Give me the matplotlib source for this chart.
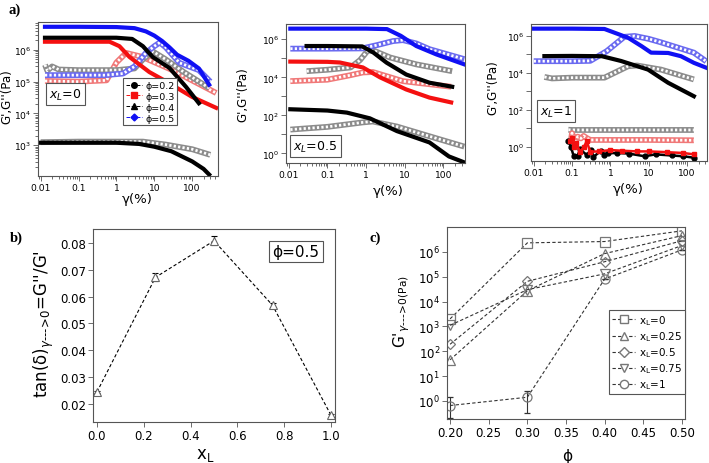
import numpy as np
import matplotlib
matplotlib.use('Agg')
import matplotlib.pyplot as plt
from matplotlib.lines import Line2D
from matplotlib.ticker import LogLocator, FuncFormatter, NullFormatter, FixedLocator

plt.rcParams['font.family'] = ['DejaVu Sans']
plt.rcParams['mathtext.fontset'] = 'dejavusans'

# ---------------- panel a, x_L = 0 ----------------
a1_g_p5 = [0.013, 0.1, 1, 3, 6, 10, 16, 25, 40, 80, 150, 280]
a1_gp_p5 = [5.3e6, 5.3e6, 5.2e6, 4.8e6, 3.8e6, 2.8e6, 1.9e6, 1.2e6, 7e5, 4.5e5, 2.6e5, 8e4]
a1_h_p5 = [0.013, 0.1, 0.5, 1.5, 3, 6, 10, 14, 20, 46, 150, 300]
a1_gpp_p5 = [1.6e5, 1.6e5, 1.6e5, 1.8e5, 3e5, 8e5, 1.3e6, 1.7e6, 1.2e6, 3.9e5, 2.3e5, 1e5]
a1_g_p4 = [0.013, 0.1, 1, 2.6, 5, 9, 25, 69, 150]
a1_gp_p4 = [2.4e6, 2.4e6, 2.4e6, 2.2e6, 1.3e6, 6e5, 2.7e5, 6.8e4, 2.1e4]
a1_h_p4 = [0.013, 0.015, 0.02, 0.03, 0.1, 1, 3, 5, 9, 20, 60, 280]
a1_gpp_p4 = [3.4e5, 2.2e5, 3e5, 2.4e5, 2.3e5, 2.3e5, 2.6e5, 5e5, 9e5, 5e5, 2e5, 6.3e4]
a1_g_p3 = [0.013, 0.1, 0.66, 1.2, 2.2, 7.4, 21, 100, 430]
a1_gp_p3 = [1.8e6, 1.8e6, 1.8e6, 1.3e6, 6e5, 2e5, 1e5, 3.3e4, 1.5e4]
a1_h_p3 = [0.013, 0.1, 0.55, 1, 1.8, 4.8, 30, 430]
a1_gpp_p3 = [1.05e5, 1.0e5, 1.1e5, 4e5, 8e5, 6e5, 2.3e5, 4.4e4]
a1_g_p2 = [0.01, 0.1, 1, 4, 10, 28, 100, 200, 280]
a1_gp_p2 = [1.2e3, 1.2e3, 1.2e3, 1.1e3, 900, 650, 310, 180, 120]
a1_h_p2 = [0.01, 0.1, 1, 5, 20, 100, 300]
a1_gpp_p2 = [1.25e3, 1.3e3, 1.3e3, 1.3e3, 1.05e3, 750, 500]

# ---------------- panel a, x_L = 0.5 ----------------
a2_g_p5 = [0.011, 0.1, 1, 3.5, 8, 20, 66, 350]
a2_gp_p5 = [3.6e6, 3.6e6, 3.6e6, 3.4e6, 1.5e6, 4.4e5, 1.6e5, 4.8e4]
a2_h_p5 = [0.011, 0.1, 0.8, 2, 5, 9, 20, 44, 350]
a2_gpp_p5 = [3.2e5, 3.2e5, 3.3e5, 5e5, 8e5, 9e5, 6e5, 3e5, 9e4]
a2_g_p4 = [0.029, 0.1, 0.8, 1.55, 3.4, 11, 44, 170]
a2_gp_p4 = [4.4e5, 4.4e5, 4.2e5, 2e5, 5.9e4, 1.4e4, 5.2e3, 3.2e3]
a2_h_p4 = [0.029, 0.1, 0.4, 0.7, 1.1, 1.6, 4.2, 20, 170]
a2_gpp_p4 = [2.1e4, 2.5e4, 3.3e4, 8e4, 2.5e5, 2.5e5, 1.1e5, 4.8e4, 2.1e4]
a2_g_p3 = [0.011, 0.1, 0.21, 0.83, 2.3, 11, 44, 160]
a2_gp_p3 = [6.7e4, 6.5e4, 6e4, 3.3e4, 1e4, 2.3e3, 860, 480]
a2_h_p3 = [0.011, 0.1, 0.4, 0.83, 1.5, 9, 160]
a2_gpp_p3 = [6.3e3, 7.5e3, 1.3e4, 1.8e4, 1.9e4, 6.3e3, 3.2e3]
a2_g_p2 = [0.011, 0.1, 0.32, 1.26, 6.3, 44, 140, 350]
a2_gp_p2 = [210, 180, 140, 70, 15, 3.8, 0.7, 0.34]
a2_h_p2 = [0.011, 0.1, 0.83, 1.5, 6.3, 44, 350]
a2_gpp_p2 = [18, 25, 43, 48, 26, 8, 2.3]

# ---------------- panel a, x_L = 1 ----------------
a3_g_p5 = [0.01, 0.1, 0.7, 2.9, 6.5, 11.5, 32, 69, 150, 316]
a3_gp_p5 = [2.5e6, 2.5e6, 2.4e6, 8e5, 2.8e5, 1.25e5, 1.2e5, 8e4, 3.5e4, 1.9e4]
a3_h_p5 = [0.01, 0.1, 0.3, 0.8, 2.3, 4.3, 10, 21, 150, 316]
a3_gpp_p5 = [4.3e4, 4.3e4, 4.5e4, 1.5e5, 9e5, 1e6, 7e5, 4.5e5, 1.25e5, 4.2e4]
a3_g_p4 = [0.019, 0.1, 0.6, 1.9, 9.6, 32, 150]
a3_gp_p4 = [8.1e4, 8.3e4, 8e4, 4.4e4, 1.5e4, 2.9e3, 540]
a3_h_p4 = [0.019, 0.03, 0.1, 0.7, 2.9, 5, 21, 150]
a3_gpp_p4 = [6e3, 5e3, 5.5e3, 5.5e3, 2.3e4, 2.5e4, 1.5e4, 4.4e3]
a3_g_p3 = [0.09, 0.1, 0.11, 0.13, 0.16, 0.2, 0.24, 0.3, 0.5, 1, 2, 5, 10, 30, 80, 150]
a3_gp_p3 = [1.9, 2.8, 1.0, 1.5, 0.53, 0.9, 1.9, 0.53, 0.55, 0.65, 0.6, 0.55, 0.55, 0.5, 0.45, 0.38]
a3_h_p3 = [0.09, 0.1, 0.11, 0.12, 0.14, 0.17, 0.2, 0.25, 0.3, 1, 10, 150]
a3_gpp_p3 = [1.5, 5.4, 3.0, 1.5, 3.5, 2.8, 3.8, 2.8, 2.3, 2.3, 2.3, 2.2]
a3_g_p2 = [0.08, 0.093, 0.11, 0.14, 0.16, 0.24, 0.32, 0.36, 0.58, 0.68, 0.87, 1.5, 3, 7.8, 15, 40, 80, 150]
a3_gp_p2 = [2.0, 1.0, 0.31, 0.31, 0.72, 0.36, 0.66, 0.28, 0.6, 0.36, 0.44, 0.45, 0.42, 0.3, 0.38, 0.33, 0.3, 0.25]
a3_h_p2 = [0.08, 0.1, 0.15, 0.2, 0.3, 1, 10, 150]
a3_gpp_p2 = [8.2, 8.0, 8.0, 8.0, 8.0, 8.0, 8.0, 8.0]

# ---------------- panel b ----------------
xL_b = [0.0, 0.25, 0.5, 0.75, 1.0]
tan_b = [0.0245, 0.0672, 0.0808, 0.0568, 0.0158]
tan_err = [0.0005, 0.0015, 0.0017, 0.0008, 0.0006]

# ---------------- panel c ----------------
phi_c = [0.2, 0.3, 0.4, 0.5]
gc_x0 = [2.0e3, 2.3e6, 2.6e6, 7e6]
gc_x025 = [45, 2.7e4, 8.5e5, 4.5e6]
gc_x05 = [190, 6.5e4, 4e5, 2.8e6]
gc_x075 = [1.1e3, 3e4, 1.3e5, 1.8e6]
gc_x1 = [0.65, 1.4, 8e4, 1.2e6]
gc_x1_lo = [0.45, 1.08, 0, 0]
gc_x1_hi = [0.8, 1.2, 0, 0]
c_labels = ['0', '0.25', '0.5', '0.75', '1']

W, H = 709., 464.
frame = '#555555'
HY = '\u2010'   # plain hyphen, so mathtext does not space it like a minus


def rect(l, t, r, b):
    return [l / W, 1 - b / H, (r - l) / W, (b - t) / H]


def solid(ax, g, v, c):
    ax.plot(g, v, '-', color=c, lw=3.0)


def hollow(ax, g, v, mid):
    ax.plot(g, v, '-', color=mid, lw=4.2, solid_capstyle='butt')
    ax.plot(g, v, color='white', lw=2.0, ls=(0, (0.8, 0.8)))


def style(ax):
    for s in ax.spines.values():
        s.set_color(frame)
        s.set_linewidth(0.8)
    ax.tick_params(which='both', direction='out', color=frame, width=0.6)
    ax.tick_params(which='major', length=3.5, pad=1.5)
    ax.tick_params(which='minor', length=2)


def log_a(ax, xr, ylim, every_other):
    ax.set_xscale('log')
    ax.set_yscale('log')
    ax.set_xlim(0.0085, xr)
    ax.set_ylim(*ylim)
    ax.xaxis.set_major_locator(FixedLocator([0.01, 0.1, 1, 10, 100]))
    ax.xaxis.set_major_formatter(FuncFormatter(lambda v, p: '%g' % v))
    ax.xaxis.set_minor_locator(LogLocator(base=10, subs=np.arange(2, 10)))
    ax.xaxis.set_minor_formatter(NullFormatter())
    ax.yaxis.set_major_locator(LogLocator(base=10, numticks=20))
    if every_other:
        ax.yaxis.set_major_formatter(FuncFormatter(
            lambda v, p: '' if round(np.log10(v)) % 2 else r'$\mathregular{10^{%d}}$' % round(np.log10(v))))
        ax.yaxis.set_minor_locator(FixedLocator([]))
    else:
        ax.yaxis.set_major_formatter(FuncFormatter(
            lambda v, p: r'$\mathregular{10^{%d}}$' % round(np.log10(v))))
        ax.yaxis.set_minor_locator(LogLocator(base=10, subs=np.arange(2, 10), numticks=20))
        ax.yaxis.set_minor_formatter(NullFormatter())
    ax.tick_params(labelsize=6.6)
    style(ax)


def xl_box(ax, x, y, s):
    ax.text(x, y, r'$x_L$=' + s, transform=ax.transAxes, fontsize=9, ha='center', va='center',
            bbox=dict(boxstyle='square,pad=0.25', fc='white', ec=frame, lw=0.8))


fig = plt.figure(figsize=(7.09, 4.64), dpi=100)

# ---- a) x_L = 0
ax1 = fig.add_axes(rect(38, 23, 218, 177))
hollow(ax1, a1_h_p2, a1_gpp_p2, '#8c8c8c')
solid(ax1, a1_g_p2, a1_gp_p2, 'black')
hollow(ax1, a1_h_p3, a1_gpp_p3, '#f07878')
hollow(ax1, a1_h_p4, a1_gpp_p4, '#8c8c8c')
hollow(ax1, a1_h_p5, a1_gpp_p5, '#6a6af0')
solid(ax1, a1_g_p3, a1_gp_p3, '#f41010')
solid(ax1, a1_g_p4, a1_gp_p4, 'black')
solid(ax1, a1_g_p5, a1_gp_p5, '#1010f4')
log_a(ax1, 480, (108, 7.5e6), False)
hand = [Line2D([], [], color='black', ls='--', lw=0.7, marker='o', ms=4),
        Line2D([], [], color='#f41010', ls='--', lw=0.7, marker='s', ms=4),
        Line2D([], [], color='black', ls='--', lw=0.7, marker='^', ms=4),
        Line2D([], [], color='#1010f4', ls='--', lw=0.7, marker='D', ms=3.5)]
leg = ax1.legend(hand, ['ϕ=0.2', 'ϕ=0.3', 'ϕ=0.4', 'ϕ=0.5'], loc='upper left',
                 bbox_to_anchor=(0.472, 0.636), fontsize=6.8, handlelength=1.7,
                 handletextpad=0.35, borderpad=0.3, labelspacing=0.2, borderaxespad=0,
                 fancybox=False, framealpha=1, edgecolor=frame)
leg.get_frame().set_linewidth(0.8)
xl_box(ax1, 0.153, 0.532, '0')

# ---- a) x_L = 0.5
ax2 = fig.add_axes(rect(286, 25, 465, 164))
hollow(ax2, a2_h_p2, a2_gpp_p2, '#8c8c8c')
hollow(ax2, a2_h_p3, a2_gpp_p3, '#f07878')
hollow(ax2, a2_h_p4, a2_gpp_p4, '#8c8c8c')
hollow(ax2, a2_h_p5, a2_gpp_p5, '#6a6af0')
solid(ax2, a2_g_p2, a2_gp_p2, 'black')
solid(ax2, a2_g_p3, a2_gp_p3, '#f41010')
solid(ax2, a2_g_p4, a2_gp_p4, 'black')
solid(ax2, a2_g_p5, a2_gp_p5, '#1010f4')
log_a(ax2, 365, (10 ** -0.5, 10 ** 6.8), True)
xl_box(ax2, 0.165, 0.122, '0.5')

# ---- a) x_L = 1
ax3 = fig.add_axes(rect(531, 25, 707, 162))
hollow(ax3, a3_h_p2, a3_gpp_p2, '#8c8c8c')
hollow(ax3, a3_h_p3, a3_gpp_p3, '#f07878')
hollow(ax3, a3_h_p4, a3_gpp_p4, '#8c8c8c')
hollow(ax3, a3_h_p5, a3_gpp_p5, '#6a6af0')
ax3.plot(a3_g_p2, a3_gp_p2, '-o', color='black', lw=1.8, ms=3.5)
ax3.plot(a3_g_p3, a3_gp_p3, '-s', color='#f41010', lw=1.8, ms=3.5)
solid(ax3, a3_g_p4, a3_gp_p4, 'black')
solid(ax3, a3_g_p5, a3_gp_p5, '#1010f4')
log_a(ax3, 330, (10 ** -0.78, 10 ** 6.65), True)
xl_box(ax3, 0.142, 0.365, '1')

# axis labels of panel a
for x, y in [(7, 97), (243, 95), (493, 88)]:
    fig.text(x / W, 1 - y / H, "G',G''(Pa)", rotation=90, ha='center', va='center', fontsize=8.5)
for x, y in [(137, 199), (388, 192), (628, 190)]:
    fig.text(x / W, 1 - y / H, 'γ(%)', ha='center', va='center', fontsize=9.5)

# ---- b)
axb = fig.add_axes(rect(93, 230, 335, 423))
axb.errorbar(xL_b, tan_b, yerr=tan_err, fmt='--', color='black', lw=0.8, dashes=(3, 2),
             elinewidth=0.8, capsize=2.5, capthick=0.8, marker='^', ms=6,
             mfc='white', mec='#666666', mew=0.8)
axb.set_xlim(-0.017, 1.017)
axb.set_ylim(0.0133, 0.0852)
axb.set_xticks([0.0, 0.2, 0.4, 0.6, 0.8, 1.0])
axb.set_yticks([0.02, 0.03, 0.04, 0.05, 0.06, 0.07, 0.08])
axb.xaxis.set_major_formatter(FuncFormatter(lambda v, p: '%.1f' % v))
axb.yaxis.set_major_formatter(FuncFormatter(lambda v, p: '%.2f' % v))
axb.tick_params(labelsize=8.5)
style(axb)
axb.text(0.839, 0.883, 'ϕ=0.5', transform=axb.transAxes, fontsize=11, ha='center', va='center',
         bbox=dict(boxstyle='square,pad=0.2', fc='white', ec=frame, lw=0.8))
sub = r'_{\gamma\mathregular{' + HY * 3 + r'}\!>\!\mathregular{0}}'
fig.text(44 / W, 1 - 324 / H, r"tan(δ)$" + sub + r"$=G''/G'", rotation=90,
         ha='center', va='center', fontsize=12)
fig.text(205 / W, 1 - 455 / H, r'x$_\mathregular{L}$', ha='center', va='center', fontsize=12)

# ---- c)
axc = fig.add_axes(rect(447, 228, 685, 420))
series = [gc_x0, gc_x025, gc_x05, gc_x075, gc_x1]
marks = ['s', '^', 'D', 'v', 'o']
sizes = [6.5, 6.5, 5.5, 6.5, 6.5]
for vals, mk, sz in zip(series, marks, sizes):
    err = None
    if vals is gc_x1:
        err = [gc_x1_lo, gc_x1_hi]
    axc.errorbar(phi_c, vals, yerr=err, fmt='--', color='#333333', lw=0.8, dashes=(3, 2),
                 elinewidth=0.8, capsize=2.5, capthick=0.8, marker=mk, ms=sz,
                 mfc='none', mec='#777777', mew=0.9)
axc.set_yscale('log')
axc.set_xlim(0.196, 0.504)
axc.set_ylim(10 ** -0.73, 10 ** 7.0)
axc.set_xticks([0.2, 0.25, 0.3, 0.35, 0.4, 0.45, 0.5])
axc.xaxis.set_major_formatter(FuncFormatter(lambda v, p: '%.2f' % v))
axc.yaxis.set_major_locator(FixedLocator([10.0 ** k for k in range(0, 7)]))
axc.yaxis.set_major_formatter(FuncFormatter(lambda v, p: r'$\mathregular{10^{%d}}$' % round(np.log10(v))))
axc.yaxis.set_minor_locator(FixedLocator([]))
axc.tick_params(labelsize=8.5)
style(axc)
hand_c = [Line2D([], [], color='#333333', ls='--', lw=0.8, dashes=(3, 2), marker=m, ms=s - 0.5,
                 mfc='white', mec='#777777') for m, s in zip(marks, sizes)]
legc = axc.legend(hand_c, [r'x$_\mathregular{L}$=' + s for s in c_labels], loc='upper left',
                  bbox_to_anchor=(0.681, 0.568), fontsize=7.5, handlelength=2.2,
                  handletextpad=0.35, borderpad=0.3, labelspacing=0.22, borderaxespad=0,
                  fancybox=False, framealpha=1, edgecolor=frame)
legc.get_frame().set_linewidth(0.8)
subc = r'_{\gamma\mathregular{' + HY * 3 + r'}\!>\!\mathregular{0(Pa)}}'
fig.text(402 / W, 1 - 312 / H, r"G'$" + subc + r"$", rotation=90,
         ha='center', va='center', fontsize=11)
fig.text(567 / W, 1 - 457 / H, 'ϕ', ha='center', va='center', fontsize=11)

# panel letters
for s, x, y in [('a)', 15, 10), ('b)', 16, 238), ('c)', 375, 238)]:
    fig.text(x / W, 1 - y / H, s, ha='center', va='center', fontsize=10.5,
             fontweight='bold', family='Liberation Serif')

fig.savefig('out.png', dpi=100)
